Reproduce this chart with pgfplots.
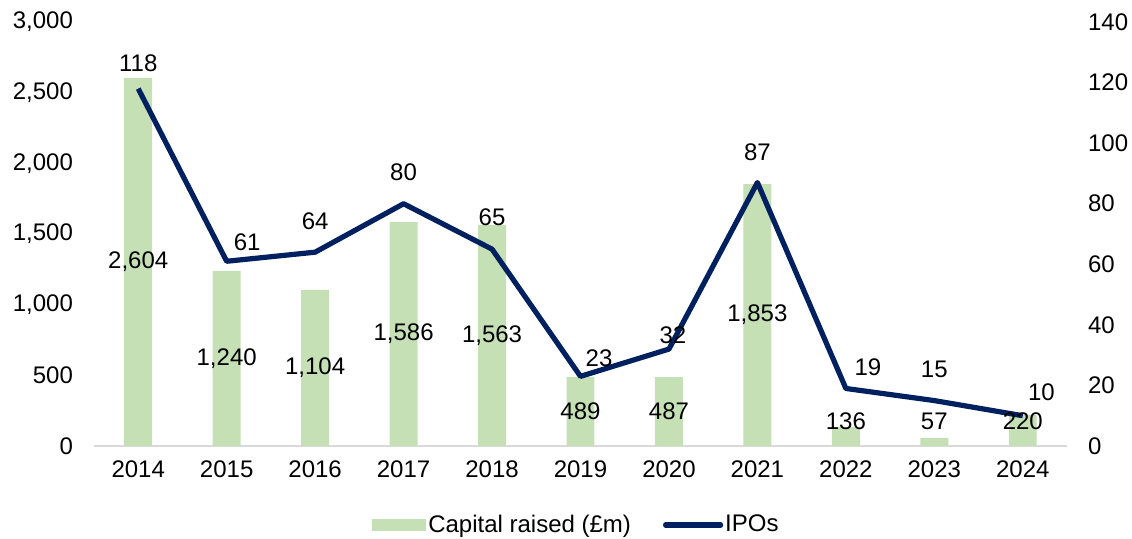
\documentclass[border=0pt]{standalone}
\usepackage{pgfplots}
\pgfplotsset{compat=1.18}
\usepackage{fontspec}
\setmainfont{Liberation Sans}
\definecolor{barg}{RGB}{197,224,180}
\definecolor{navy}{RGB}{0,32,96}
\definecolor{axgray}{RGB}{217,217,217}
\begin{document}
\begin{tikzpicture}
\pgfplotsset{
  base/.style={scale only axis, width=486.5pt, height=212pt, xmin=-0.5, xmax=10.5,
    font=\fontsize{12}{14}\selectfont,
    /pgf/number format/assume math mode=true,
    /pgf/number format/1000 sep={,},
    tick style={draw=none}, clip=false}
}
\begin{axis}[base, ymin=0, ymax=3000, ytick={0,500,...,3000},
  axis x line*=bottom, axis y line*=left,
  x axis line style={draw=axgray, line width=0.9pt, -},
  y axis line style={draw=none},
  xtick={0,...,10},
  xticklabels={2014,2015,2016,2017,2018,2019,2020,2021,2022,2023,2024},
  xticklabel style={yshift=-4pt},
  yticklabel style={xshift=-7pt}]
\addplot[ybar, bar width=0.316, fill=barg, draw=none] coordinates {
(0,2604) (1,1240) (2,1104) (3,1586) (4,1563) (5,489) (6,487) (7,1853) (8,136) (9,57) (10,220)};
\end{axis}
\begin{axis}[base, ymin=0, ymax=140, ytick={0,20,...,140},
  axis y line*=right, axis x line=none, y axis line style={draw=none},
  yticklabel style={xshift=7pt},
  legend style={at={(0.5,0)}, anchor=center, xshift=-2pt, yshift=-39.5pt, draw=none, fill=none,
    font=\fontsize{12}{14}\selectfont, inner sep=0pt,
    nodes={inner sep=1pt},
    /tikz/every even column/.append style={column sep=15pt}},
  legend columns=2]
\addlegendimage{legend image code/.code={\fill[barg] (0pt,-2.75pt) rectangle (26.5pt,2.75pt);}}
\addlegendentry{Capital raised (£m)}
\addplot[navy, line width=2.6pt, line join=round,
  legend image code/.code={\draw[navy, line width=2.6pt, line cap=round] (0pt,0pt) -- (27.5pt,0pt);}] coordinates {
(0,118) (1,61) (2,64) (3,80) (4,65) (5,23) (6,32) (7,87) (8,19) (9,15) (10,10)};
\addlegendentry{IPOs}
\addplot[forget plot, only marks, mark=none, nodes near coords, point meta=explicit symbolic,
  nodes near coords align=center,
  every node near coord/.append style={anchor=center, inner sep=0pt, text=black,
    font=\fontsize{12}{14}\selectfont}] table[meta=lab] {
x y lab
0 60.76 {2,604}
1 28.93 {1,240}
2 25.76 {1,104}
3 37.01 {1,586}
4 36.47 {1,563}
5 11.41 489
6 11.36 487
7 43.24 {1,853}
8 8.26 136
9 8.26 57
10 8.26 220
0 126.3 118
1.232 67.4 61
2 74.3 64
3 90.5 80
4 75.6 65
5.21 29.1 23
6.045 36.7 32
7 97.1 87
8.25 26.1 19
9 25.4 15
10.21 17.8 10
};
\end{axis}
\pgfresetboundingbox
\path[use as bounding box] (-47pt,-46pt) rectangle (519pt,223pt);
\end{tikzpicture}
\end{document}
